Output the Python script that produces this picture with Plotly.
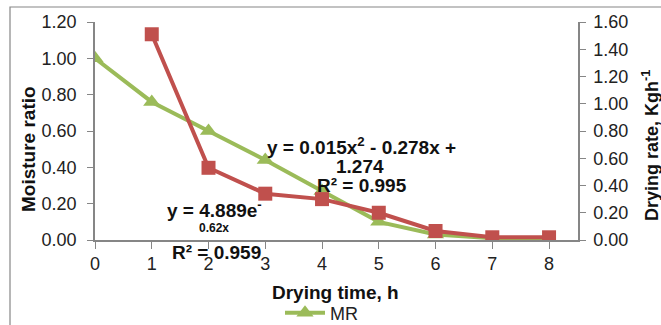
import plotly.graph_objects as go

time_h = [0, 1, 2, 3, 4, 5, 6, 7, 8]
mr = [1.00, 0.76, 0.60, 0.44, 0.27, 0.10, 0.03, 0.01, 0.00]
rate_time = [1, 2, 3, 4, 5, 6, 7, 8]
drying_rate = [1.51, 0.53, 0.34, 0.30, 0.20, 0.066, 0.02, 0.02]

left_ticks = [0, 0.2, 0.4, 0.6, 0.8, 1.0, 1.2]
right_ticks = [0, 0.2, 0.4, 0.6, 0.8, 1.0, 1.2, 1.4, 1.6]

GREEN = "#9BBB59"
RED = "#C0504D"
AX = "#868686"
FONT = "Liberation Sans, Arial, sans-serif"

fig = go.Figure()
fig.add_trace(go.Scatter(
    x=time_h, y=mr, name="MR", mode="lines+markers",
    line=dict(color=GREEN, width=4),
    marker=dict(symbol="triangle-up", size=15, color=GREEN),
    yaxis="y"))
fig.add_trace(go.Scatter(
    x=rate_time, y=drying_rate, name="DR", mode="lines+markers",
    line=dict(color=RED, width=4),
    marker=dict(symbol="square", size=14, color=RED),
    yaxis="y2", showlegend=False))

W, H = 661, 325
L, R, T, B = 95, 83, 22, 85
pw, ph = W - L - R, H - T - B

def px(x):
    return (x - L) / pw

def py(y):
    return (H - B - y) / ph

TICK = 18
ANN = 19

fig.update_layout(
    width=W, height=H,
    margin=dict(l=L, r=R, t=T, b=B, autoexpand=False),
    paper_bgcolor="white", plot_bgcolor="white",
    font=dict(family=FONT, size=16, color="#222"),
    xaxis=dict(range=[0, 8.51], tickvals=time_h, ticktext=[str(t) for t in time_h],
               showgrid=False, zeroline=False, showline=True, linecolor=AX, linewidth=1.5,
               ticks="outside", tickcolor=AX, ticklen=7, tickfont=dict(size=TICK)),
    yaxis=dict(range=[0, 1.2], tickvals=left_ticks, ticktext=[f"{v:.2f}" for v in left_ticks],
               showgrid=False, zeroline=False, showline=True, linecolor=AX, linewidth=1.5,
               ticks="outside", tickcolor=AX, ticklen=6, tickfont=dict(size=TICK),
               ticklabelstandoff=7),
    yaxis2=dict(range=[0, 1.6], tickvals=right_ticks, ticktext=[f"{v:.2f}" for v in right_ticks],
                overlaying="y", side="right",
                showgrid=False, zeroline=False, showline=True, linecolor=AX, linewidth=1.5,
                ticks="outside", tickcolor=AX, ticklen=6, tickfont=dict(size=TICK),
                ticklabelstandoff=4),
    legend=dict(orientation="h", xref="container", yref="container",
                x=280 / W, xanchor="left", y=(H - 313) / H, yanchor="middle",
                font=dict(size=18), bgcolor="rgba(0,0,0,0)", itemwidth=40,
                tracegroupgap=0),
    showlegend=True,
)

anns = [
    ("<b>y = 0.015x<sup>2</sup> - 0.278x +</b>", 361, 146, ANN, 0),
    ("<b>1.274</b>", 360, 166, ANN, 0),
    ("<b>R² = 0.995</b>", 362, 186, ANN, 0),
    ("<b>y = 4.889e<sup>-</sup></b>", 214, 209, ANN, 0),
    ("<b>0.62x</b>", 214, 228, 12, 0),
    ("<b>R² = 0.959</b>", 216, 252, ANN, 0),
    ("<b>Drying time, h</b>", 335, 292, ANN, 0),
    ("<b>Moisture ratio</b>", 28, 149, 19, -90),
    ("<b>Drying rate, Kgh<sup>-1</sup></b>", 650, 146, 18, -90),
]
for text, x, y, s, ang in anns:
    fig.add_annotation(text=text, x=px(x), y=py(y), xref="paper", yref="paper",
                       showarrow=False, xanchor="center", yanchor="middle",
                       textangle=ang,
                       font=dict(size=s, color="#111", family=FONT))

# chart frame
fig.add_shape(type="rect", xref="paper", yref="paper",
              x0=px(10), x1=px(680), y0=py(7), y1=py(340),
              line=dict(color=AX, width=1.2), fillcolor="rgba(0,0,0,0)", layer="below")

fig.write_html("out.html")
